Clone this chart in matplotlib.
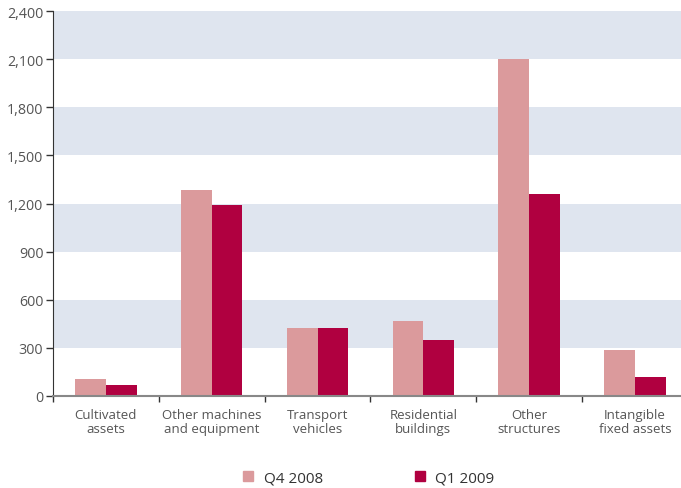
import matplotlib
matplotlib.use("Agg")
import matplotlib.pyplot as plt
from matplotlib.patches import Patch
import numpy as np

categories = ["Cultivated\nassets", "Other machines\nand equipment", "Transport\nvehicles",
              "Residential\nbuildings", "Other\nstructures", "Intangible\nfixed assets"]
q4_2008 = [105, 1285, 425, 470, 2100, 285]
q1_2009 = [70, 1190, 425, 350, 1260, 120]
yticks = [0, 300, 600, 900, 1200, 1500, 1800, 2100, 2400]
ytick_labels = ["0", "300", "600", "900", "1,200", "1,500", "1,800", "2,100", "2,400"]
series_names = ["Q4 2008", "Q1 2009"]

c4 = "#db9a9c"
c1 = "#b00040"
band = "#dfe5ef"
txt = "#555555"

plt.rcParams['font.family'] = ['Open Sans', 'DejaVu Sans']

fig = plt.figure(figsize=(6.81, 4.89), dpi=100)
ax = fig.add_axes([53/681, 92/489, 1 - 53/681 + 0.01, (397-12)/489])

for lo in [300, 900, 1500, 2100]:
    ax.axhspan(lo, lo + 300, color=band, lw=0, zorder=0)

x = np.arange(len(categories))
w = 0.29
ax.bar(x - w/2, q4_2008, w, color=c4, zorder=2)
ax.bar(x + w/2, q1_2009, w, color=c1, zorder=2)

ax.set_xlim(-0.5, len(categories) - 0.5)
ax.set_ylim(0, 2400)
ax.set_yticks(yticks)
ax.set_yticklabels(ytick_labels, color=txt, fontsize=10.3)
ax.set_xticks(x)
ax.set_xticklabels(categories, color=txt, fontsize=9.5, linespacing=1.05)
ax.tick_params(axis='x', length=0, pad=9)
ax.set_xticks(np.arange(len(categories)) - 0.5, minor=True)
ax.tick_params(axis='x', which='minor', length=4, color="#333333", width=1)
ax.tick_params(axis='y', length=5, color="#333333", width=1, pad=2)

for s in ['top', 'right']:
    ax.spines[s].set_visible(False)
ax.spines['left'].set_color("#333333")
ax.spines['bottom'].set_color("#888888")
ax.spines['bottom'].set_linewidth(1.5)

handles = [Patch(color=c4, label=series_names[0]), Patch(color=c1, label=series_names[1])]
fig.legend(handles=handles, loc='center', bbox_to_anchor=(369/681, 1 - 479/489), ncol=2,
           frameon=False, fontsize=11, handlelength=0.65, handleheight=0.65,
           columnspacing=6, handletextpad=0.7, labelcolor="#333333")

fig.savefig("out.png", dpi=100)
